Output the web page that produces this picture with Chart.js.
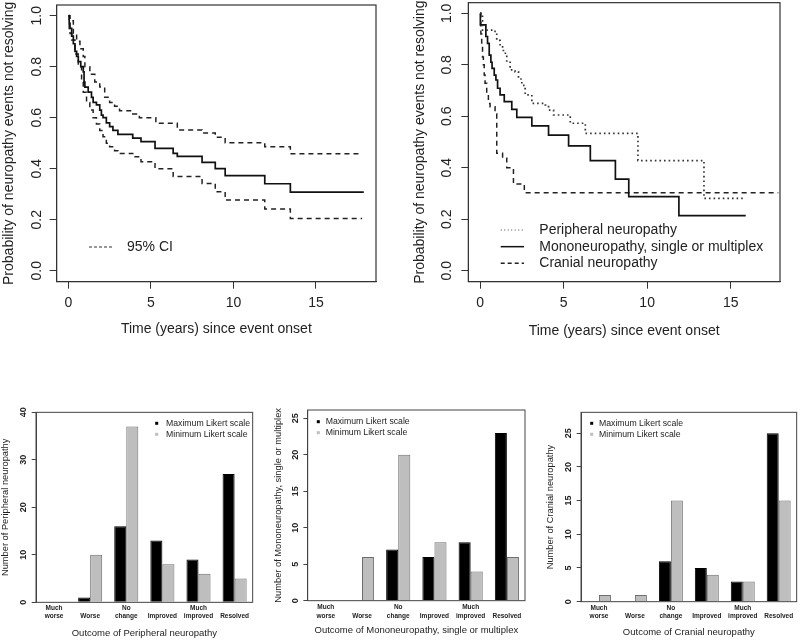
<!DOCTYPE html>
<html><head><meta charset="utf-8">
<script src="https://cdn.jsdelivr.net/npm/chart.js@4.4.0/dist/chart.umd.min.js"></script>
<style>
html,body{margin:0;padding:0;background:#fff;}
body{width:800px;height:640px;position:relative;overflow:hidden;}
canvas{position:absolute;}
</style></head><body>
<canvas id="c1" width="400" height="345" style="left:0px;top:0px;width:400px;height:345px"></canvas>
<canvas id="c2" width="400" height="345" style="left:400px;top:0px;width:400px;height:345px"></canvas>
<canvas id="c3" width="265" height="270" style="left:0px;top:370px;width:265px;height:270px"></canvas>
<canvas id="c4" width="265" height="270" style="left:265px;top:370px;width:265px;height:270px"></canvas>
<canvas id="c5" width="270" height="270" style="left:530px;top:370px;width:270px;height:270px"></canvas>
<script>
// ---------- DATA ----------
// Panel 1: all neuropathy events (KM estimate and 95% CI)
const allTime  = [0,0.05,0.1,0.2,0.3,0.4,0.5,0.6,0.75,0.9,0.95,1.0,1.2,1.4,1.5,1.7,1.9,2.0,2.1,2.3,2.5,2.7,3.0,3.9,4.4,5.25,6.35,6.6,8.1,8.9,9.5,11.9,13.45,17.9];
const allSurv  = [1.0,0.97,0.95,0.92,0.89,0.86,0.84,0.82,0.80,0.78,0.74,0.72,0.70,0.68,0.66,0.65,0.63,0.61,0.60,0.58,0.565,0.55,0.535,0.52,0.506,0.48,0.46,0.448,0.425,0.40,0.373,0.341,0.308,0.308];
const upTime   = [0,0.1,0.3,0.5,0.7,0.9,1.0,1.3,1.6,1.9,2.2,2.5,2.8,3.1,3.9,4.3,5.3,6.6,8.1,8.9,9.5,11.9,13.45,17.8];
const upSurv   = [1.0,0.98,0.93,0.90,0.87,0.84,0.80,0.77,0.74,0.72,0.68,0.66,0.645,0.627,0.615,0.60,0.578,0.552,0.54,0.523,0.502,0.486,0.459,0.459];
const loTime   = [0,0.05,0.1,0.2,0.4,0.6,0.8,0.9,1.1,1.3,1.5,1.7,1.9,2.1,2.3,2.5,2.8,3.0,3.9,4.4,5.25,6.35,8.1,8.9,9.5,11.9,13.45,17.8];
const loSurv   = [1.0,0.95,0.93,0.905,0.85,0.80,0.74,0.70,0.66,0.63,0.60,0.575,0.55,0.525,0.50,0.486,0.47,0.46,0.447,0.427,0.40,0.369,0.342,0.31,0.277,0.242,0.205,0.205];
// Panel 2: by neuropathy type
const periTime = [0,0.15,0.8,1.0,1.2,1.4,1.6,1.8,2.1,2.3,2.5,2.7,3.1,3.9,4.1,4.4,5.4,6.3,9.45,13.4,15.9];
const periSurv = [1.0,0.935,0.93,0.895,0.87,0.845,0.81,0.78,0.773,0.745,0.72,0.683,0.65,0.644,0.624,0.605,0.573,0.534,0.428,0.281,0.281];
const monoTime = [0,0.02,0.35,0.45,0.55,0.65,0.72,0.85,0.95,1.05,1.2,1.45,1.9,2.2,3.1,4.1,5.3,6.6,8.1,8.9,11.9,15.9];
const monoSurv = [1.0,0.955,0.91,0.883,0.838,0.81,0.786,0.76,0.741,0.709,0.683,0.657,0.627,0.596,0.563,0.527,0.485,0.428,0.356,0.288,0.214,0.214];
const cranTime = [0,0.05,0.1,0.15,0.2,0.25,0.3,0.4,0.5,0.6,0.9,1.0,1.35,1.6,2.0,2.65,17.85];
const cranSurv = [1.0,0.92,0.88,0.83,0.80,0.76,0.728,0.69,0.65,0.637,0.61,0.456,0.437,0.40,0.337,0.303,0.303];
const probTicks = [0, 0.2, 0.4, 0.6, 0.8, 1.0];
const timeTicks = [0, 5, 10, 15];
// Bar panels
const outcomeLabels = [["Much","worse"],["","Worse"],["No","change"],["","Improved"],["Much","improved"],["","Resolved"]];
const periMax = [0, 1, 16, 13, 9, 27];
const periMin = [0, 10, 37, 8, 6, 5];
const monoMax = [0, 0, 7, 6, 8, 23];
const monoMin = [0, 6, 20, 8, 4, 6];
const cranMax = [0, 0, 6, 5, 3, 25];
const cranMin = [1, 1, 15, 4, 3, 15];

// ---------- HELPERS ----------
const FONT = "'Liberation Sans', Arial, Helvetica, sans-serif";
Chart.defaults.font.family = FONT;
Chart.defaults.color = '#222';
const pts = (t, s) => t.map((x, i) => ({x: x, y: s[i]}));

const boxPlugin = {
  id: 'plotBox',
  afterDraw(chart, args, opts) {
    const a = chart.chartArea, ctx = chart.ctx;
    ctx.save();
    ctx.strokeStyle = opts.color || '#333';
    ctx.lineWidth = opts.width || 1;
    ctx.strokeRect(a.left, a.top, a.right - a.left, a.bottom - a.top);
    ctx.restore();
  }
};
const legendPlugin = {
  id: 'rLegend',
  afterDraw(chart, args, opts) {
    if (!opts || !opts.items) return;
    const ctx = chart.ctx;
    ctx.save();
    ctx.font = opts.font;
    ctx.textBaseline = 'middle';
    ctx.textAlign = 'left';
    opts.items.forEach((it, i) => {
      const y = opts.y + i * opts.dy;
      const ds = chart.data.datasets[it.ds];
      if (it.kind === 'line') {
        ctx.save();
        ctx.strokeStyle = it.color; ctx.lineWidth = it.width; ctx.setLineDash(it.dash || []);
        ctx.beginPath(); ctx.moveTo(opts.x1, y); ctx.lineTo(opts.x2, y); ctx.stroke();
        ctx.restore();
      } else {
        ctx.fillStyle = ds.backgroundColor;
        ctx.fillRect(opts.sx - opts.ss / 2, y - opts.ss / 2, opts.ss, opts.ss);
      }
      ctx.fillStyle = '#222';
      ctx.fillText(ds.label, opts.tx, y);
    });
    ctx.restore();
  }
};

function kmChart(id, cfg) {
  return new Chart(document.getElementById(id), {
    type: 'line',
    data: { datasets: cfg.datasets },
    options: {
      responsive: false, animation: false, devicePixelRatio: 1,
      layout: { padding: { left: 0, top: cfg.pt, right: cfg.pr, bottom: 0 } },
      plugins: { legend: { display: false }, tooltip: { enabled: false }, plotBox: { color: '#333', width: 1.2 }, rLegend: cfg.legend },
      elements: { point: { radius: 0 }, line: { tension: 0, borderCapStyle: 'butt', fill: false } },
      scales: {
        x: {
          type: 'linear', min: cfg.xmin, max: cfg.xmax,
          afterFit: s => { s.height = cfg.xh; s.paddingLeft = 0; s.paddingRight = 0; },
          afterBuildTicks: s => { s.ticks = timeTicks.map(v => ({value: v})); },
          grid: { drawOnChartArea: false, drawTicks: true, tickLength: 7, color: '#333', lineWidth: 1 },
          border: { display: true, color: '#333' },
          ticks: { padding: cfg.xtp, font: { size: 14 }, color: '#222', maxRotation: 0, autoSkip: false, callback: v => String(v) },
          title: { display: true, text: 'Time (years) since event onset', font: { size: 14 }, color: '#222', padding: { top: 0, bottom: cfg.xtb } }
        },
        y: {
          type: 'linear', min: cfg.ymin, max: cfg.ymax,
          afterFit: s => { s.width = cfg.yw; s.paddingTop = 0; s.paddingBottom = 0; },
          afterBuildTicks: s => { s.ticks = probTicks.map(v => ({value: v})); },
          grid: { drawOnChartArea: false, drawTicks: true, tickLength: 7, color: '#333', lineWidth: 1 },
          border: { display: true, color: '#333' },
          ticks: { minRotation: 90, maxRotation: 90, crossAlign: 'center', padding: cfg.ytp, font: { size: 14 }, color: '#222', autoSkip: false, callback: v => Number(v).toFixed(1) },
          title: { display: true, text: 'Probability of neuropathy events not resolving', font: { size: 14 }, color: '#222', padding: { top: cfg.ytt, bottom: 0 } }
        }
      }
    },
    plugins: [boxPlugin, legendPlugin]
  });
}

function barChart(id, cfg) {
  return new Chart(document.getElementById(id), {
    type: 'bar',
    data: {
      labels: outcomeLabels,
      datasets: [
        { label: 'Maximum Likert scale', data: cfg.max, backgroundColor: '#000000', borderColor: '#000000', borderWidth: 1 },
        { label: 'Minimum Likert scale', data: cfg.min, backgroundColor: '#bebebe', borderColor: '#6e6e6e', borderWidth: 1 }
      ]
    },
    options: {
      responsive: false, animation: false, devicePixelRatio: 1,
      layout: { padding: { left: cfg.pl, top: cfg.pt, right: cfg.pr, bottom: 0 } },
      datasets: { bar: { categoryPercentage: 2 / 3, barPercentage: 1 } },
      plugins: { legend: { display: false }, tooltip: { enabled: false }, plotBox: { color: '#444', width: 1 }, rLegend: cfg.legend },
      scales: {
        x: {
          afterFit: s => { s.height = cfg.xh; s.paddingLeft = 0; s.paddingRight = 0; },
          grid: { display: false, drawTicks: false },
          border: { display: false },
          ticks: { autoSkip: false, maxRotation: 0, minRotation: 0, padding: cfg.xtp, font: { size: 6.5, weight: 'bold', lineHeight: 1.28 }, color: '#222' },
          title: { display: true, text: cfg.xtitle, font: { size: 9.5 }, color: '#222', padding: { top: 0, bottom: cfg.xtb } }
        },
        y: {
          min: 0, max: cfg.ymax,
          afterFit: s => { s.width = cfg.yw; s.paddingTop = 0; s.paddingBottom = 0; },
          afterBuildTicks: s => { s.ticks = cfg.yticks.map(v => ({value: v})); },
          grid: { drawOnChartArea: false, drawTicks: true, tickLength: 4.3, color: '#444', lineWidth: 1 },
          border: { display: true, color: '#444' },
          ticks: { minRotation: 90, maxRotation: 90, crossAlign: 'center', padding: cfg.ytp, font: { size: 9, weight: 'bold' }, color: '#222', autoSkip: false, callback: v => String(v) },
          title: { display: true, text: cfg.ytitle, font: { size: 9.3 }, color: '#222', padding: { top: 0, bottom: 0 } }
        }
      }
    },
    plugins: [boxPlugin, legendPlugin]
  });
}

// ---------- CHARTS ----------
kmChart('c1', {
  xmin: -0.71, xmax: 18.64, ymin: -0.043, ymax: 1.042,
  pt: 5, pr: 24, yw: 56.67, xh: 63.33, xtp: 6, xtb: 7.6, ytp: 3, ytt: 0.6,
  datasets: [
    { label: 'All neuropathy events', data: pts(allTime, allSurv), borderColor: '#111', borderWidth: 1.7, stepped: 'before' },
    { label: '95% CI', data: pts(upTime, upSurv), borderColor: '#222', borderWidth: 1.5, borderDash: [5, 4], stepped: 'before' },
    { label: '95% CI', data: pts(loTime, loSurv), borderColor: '#222', borderWidth: 1.5, borderDash: [5, 4], stepped: 'before' }
  ],
  legend: { font: '14px ' + FONT, x1: 89, x2: 114, tx: 127, y: 247, dy: 0,
            items: [{ ds: 1, kind: 'line', color: '#333', width: 1, dash: [3, 2] }] }
});

kmChart('c2', {
  xmin: -0.7, xmax: 17.95, ymin: -0.0425, ymax: 1.0415,
  pt: 2.67, pr: 20, yw: 68.33, xh: 63.33, xtp: 6, xtb: 5.9, ytp: 4.9, ytt: 11.6,
  datasets: [
    { label: 'Peripheral neuropathy', data: pts(periTime, periSurv), borderColor: '#333', borderWidth: 1.7, borderDash: [1.6, 3], stepped: 'before' },
    { label: 'Mononeuropathy, single or multiplex', data: pts(monoTime, monoSurv), borderColor: '#111', borderWidth: 1.7, stepped: 'before' },
    { label: 'Cranial neuropathy', data: pts(cranTime, cranSurv), borderColor: '#222', borderWidth: 1.5, borderDash: [5, 4], stepped: 'before' }
  ],
  legend: { font: '14px ' + FONT, x1: 100.7, x2: 124, tx: 139.3, y: 230, dy: 16.67,
            items: [{ ds: 0, kind: 'line', color: '#444', width: 1, dash: [1, 2.5] },
                    { ds: 1, kind: 'line', color: '#111', width: 1.5 },
                    { ds: 2, kind: 'line', color: '#222', width: 1.5, dash: [4, 3] }] }
});

barChart('c3', {
  max: periMax, min: periMin, ymax: 40, yticks: [0, 10, 20, 30, 40],
  pl: 0, pt: 42.33, pr: 12.33, yw: 36, xh: 37.67, xtp: 1.7, xtb: 1.3, ytp: 2.7,
  xtitle: 'Outcome of Peripheral neuropathy', ytitle: 'Number of Peripheral neuropathy',
  legend: { font: '8.7px ' + FONT, sx: 156.7, ss: 3, tx: 166, y: 53.3, dy: 11, items: [{ ds: 0 }, { ds: 1 }] }
});

barChart('c4', {
  max: monoMax, min: monoMin, ymax: 26.14, yticks: [0, 5, 10, 15, 20, 25],
  pl: 7.75, pt: 40, pr: 5, yw: 34.92, xh: 39.33, xtp: 2.6, xtb: 4.3, ytp: 2.7,
  xtitle: 'Outcome of Mononeuropathy, single or multiplex', ytitle: 'Number of Mononeuropathy, single or multiplex',
  legend: { font: '8.7px ' + FONT, sx: 53.3, ss: 3, tx: 60.7, y: 51.7, dy: 11, items: [{ ds: 0 }, { ds: 1 }] }
});

barChart('c5', {
  max: cranMax, min: cranMin, ymax: 28.1, yticks: [0, 5, 10, 15, 20, 25],
  pl: 15.1, pt: 42.33, pr: 3.33, yw: 35.9, xh: 38.33, xtp: 2, xtb: 1.6, ytp: 3.4,
  xtitle: 'Outcome of Cranial neuropathy', ytitle: 'Number of Cranial neuropathy',
  legend: { font: '8.7px ' + FONT, sx: 61.7, ss: 3, tx: 69, y: 53.3, dy: 11, items: [{ ds: 0 }, { ds: 1 }] }
});
</script>
</body></html>
